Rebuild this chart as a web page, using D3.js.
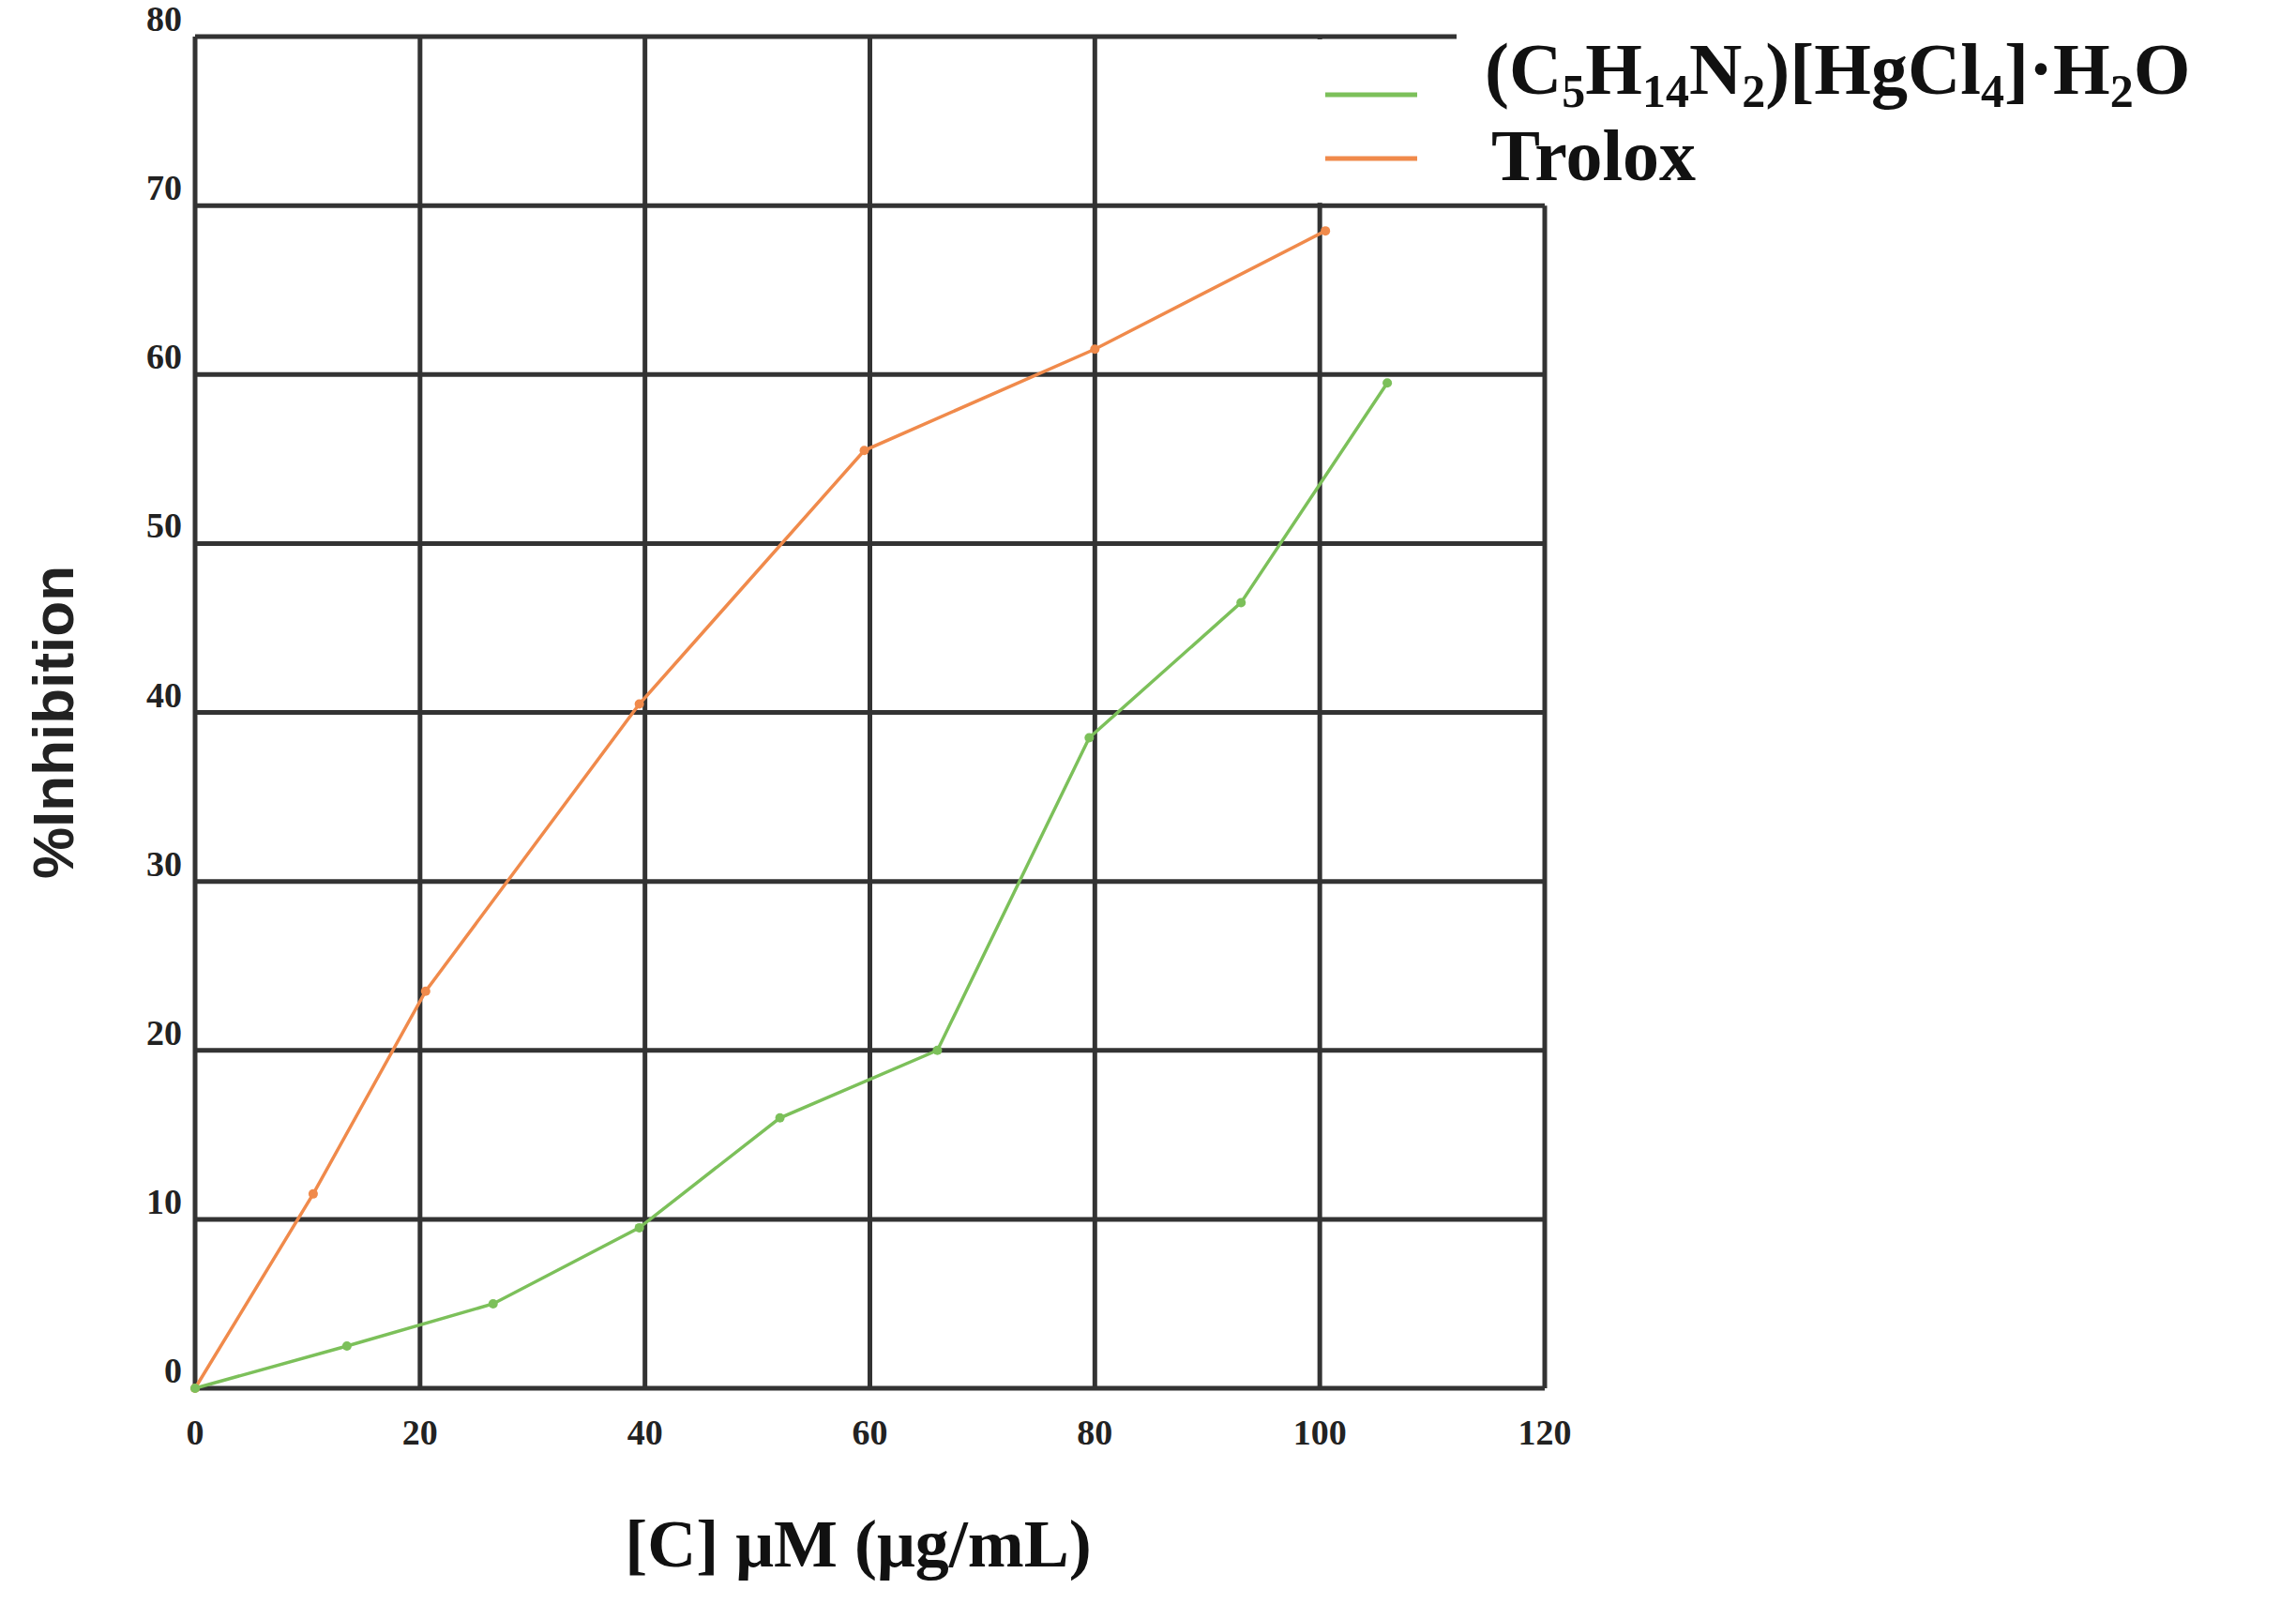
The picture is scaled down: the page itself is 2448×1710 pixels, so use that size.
<!DOCTYPE html>
<html><head><meta charset="utf-8">
<script src="https://cdn.jsdelivr.net/npm/d3@7"></script>
<style>body{margin:0;background:#fff}</style></head>
<body><svg id="c" width="2448" height="1710"></svg>
<script>
const xTicks=[0,20,40,60,80,100,120];
const yTicks=[0,10,20,30,40,50,60,70,80];
const troloxX=[0,10.5,20.5,39.5,59.5,80,100.5];
const troloxY=[0,11.5,23.5,40.5,55.5,61.5,68.5];
const compX=[0,13.5,26.5,39.5,52,66,79.5,93,106];
const compY=[0,2.5,5,9.5,16,20,38.5,46.5,59.5];
const seriesNames=["Trolox"];

const svg=d3.select("#c");
const x=d3.scaleLinear().domain([0,120]).range([208,1647]);
const y=d3.scaleLinear().domain([0,80]).range([1480,39]);
const serif="'Liberation Serif','DejaVu Serif',serif";
const gc="#333";
svg.append("g").selectAll("line").data(xTicks).join("line")
 .attr("x1",d=>x(d)).attr("x2",d=>x(d)).attr("y1",y(0)).attr("y2",d=>d==120?y(70):y(80))
 .attr("stroke",gc).attr("stroke-width",5);
svg.append("g").selectAll("line").data(yTicks).join("line")
 .attr("x1",x(0)).attr("x2",d=>d==80?1553:x(120)).attr("y1",d=>y(d)).attr("y2",d=>y(d))
 .attr("stroke",gc).attr("stroke-width",5);
svg.append("rect").attr("x",1403).attr("y",y(80)+3).attr("width",1045).attr("height",y(70)-y(80)-6).attr("fill","#fff");
svg.selectAll(".xt").data(xTicks).join("text").attr("x",d=>x(d)).attr("y",1540)
 .attr("text-anchor","middle").attr("font-family",serif).attr("font-weight","bold").attr("font-size",38).attr("fill","#222").text(d=>d);
svg.selectAll(".yt").data(yTicks).join("text").attr("x",194).attr("y",d=>y(d)-6)
 .attr("text-anchor","end").attr("font-family",serif).attr("font-weight","bold").attr("font-size",38).attr("fill","#222").text(d=>d);
const line=d3.line().x(d=>x(d[0])).y(d=>y(d[1]));
function draw(xs,ys,col){
 const pts=xs.map((v,i)=>[v,ys[i]]);
 svg.append("path").attr("d",line(pts)).attr("fill","none").attr("stroke",col).attr("stroke-width",3.5);
 svg.append("g").selectAll("circle").data(pts).join("circle").attr("cx",d=>x(d[0])).attr("cy",d=>y(d[1])).attr("r",5).attr("fill",col);
}
draw(troloxX,troloxY,"#f08a4b");
draw(compX,compY,"#7cc05a");
svg.append("text").attr("x",915).attr("y",1670).attr("text-anchor","middle")
 .attr("font-family",serif).attr("font-weight","bold").attr("font-size",72).attr("fill","#111").text("[C] μM (μg/mL)");
svg.append("text").attr("transform","translate(78,770) rotate(-90)").attr("text-anchor","middle")
 .attr("font-family","'Liberation Sans',Arial,sans-serif").attr("font-weight","bold").attr("font-size",62).attr("fill","#222").text("%Inhibition");
const lg=svg.append("g").attr("font-family",serif).attr("font-weight","bold").attr("font-size",78).attr("fill","#111");
lg.append("line").attr("x1",1413).attr("x2",1511).attr("y1",101).attr("y2",101).attr("stroke","#7cc05a").attr("stroke-width",5);
lg.append("line").attr("x1",1413).attr("x2",1511).attr("y1",169).attr("y2",169).attr("stroke","#f08a4b").attr("stroke-width",5);
const t=lg.append("text").attr("x",1583).attr("y",100);
t.append("tspan").text("(C");
t.append("tspan").attr("font-size",50).attr("dy",14).text("5");
t.append("tspan").attr("dy",-14).text("H");
t.append("tspan").attr("font-size",50).attr("dy",14).text("14");
t.append("tspan").attr("dy",-14).text("N");
t.append("tspan").attr("font-size",50).attr("dy",14).text("2");
t.append("tspan").attr("dy",-14).text(")[HgCl");
t.append("tspan").attr("font-size",50).attr("dy",14).text("4");
t.append("tspan").attr("dy",-14).text("]·H");
t.append("tspan").attr("font-size",50).attr("dy",14).text("2");
t.append("tspan").attr("dy",-14).text("O");
lg.append("text").attr("x",1590).attr("y",192).text(seriesNames[0]);
</script></body></html>
